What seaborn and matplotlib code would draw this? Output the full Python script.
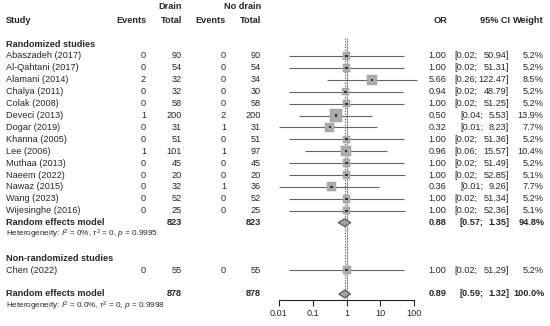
import numpy as np
import matplotlib
matplotlib.use("Agg")
import matplotlib.pyplot as plt
import seaborn as sns

# study level data (randomized studies)
studies = ["Abaszadeh (2017)", "Al-Qahtani (2017)", "Alamani (2014)", "Chalya (2011)",
           "Colak (2008)", "Deveci (2013)", "Dogar (2019)", "Khanna (2005)", "Lee (2006)",
           "Muthaa (2013)", "Naeem (2022)", "Nawaz (2015)", "Wang (2023)", "Wijesinghe (2016)"]
ev_drain = [0, 0, 2, 0, 0, 1, 0, 0, 1, 0, 0, 0, 0, 0]
n_drain = [90, 54, 32, 32, 58, 200, 31, 51, 101, 45, 20, 32, 52, 25]
ev_nodrain = [0, 0, 0, 0, 0, 2, 1, 0, 1, 0, 0, 1, 0, 0]
n_nodrain = [90, 54, 34, 30, 58, 200, 31, 51, 97, 45, 20, 36, 52, 25]
odds = [1.00, 1.00, 5.66, 0.94, 1.00, 0.50, 0.32, 1.00, 0.96, 1.00, 1.00, 0.36, 1.00, 1.00]
ci_lo = [0.02, 0.02, 0.26, 0.02, 0.02, 0.04, 0.01, 0.02, 0.06, 0.02, 0.02, 0.01, 0.02, 0.02]
ci_hi = [50.94, 51.31, 122.47, 48.79, 51.25, 5.53, 8.23, 51.36, 15.57, 51.49, 52.85, 9.26, 51.34, 52.36]
weights = [5.2, 5.2, 8.5, 5.2, 5.2, 13.9, 7.7, 5.2, 10.4, 5.2, 5.1, 7.7, 5.2, 5.1]

# non-randomized study
nr_studies = ["Chen (2022)"]
nr_ev_drain = [0]
nr_n_drain = [55]
nr_ev_nodrain = [0]
nr_n_nodrain = [55]
nr_odds = [1.00]
nr_ci_lo = [0.02]
nr_ci_hi = [51.29]
nr_weights = [5.2]

# pooled estimates: randomized subgroup, overall
pooled_labels = ["Random effects model", "Random effects model"]
pooled_n = [823, 878]
pooled_or = [0.88, 0.89]
pooled_lo = [0.57, 0.59]
pooled_hi = [1.35, 1.32]
pooled_w = [94.8, 100.0]
pooled_het = ["Heterogeneity: $I^2$ = 0%, $\\tau^2$ = 0, $p$ = 0.9995",
              "Heterogeneity: $I^2$ = 0.0%, $\\tau^2$ = 0, $p$ = 0.9998"]
tick_vals = [0.01, 0.1, 1, 10, 100]
tick_labels = ["0.01", "0.1", "1", "10", "100"]

sns.set_theme(style="white")
plt.rcParams["font.family"] = ["Liberation Sans", "DejaVu Sans"]
plt.rcParams["mathtext.fontset"] = "custom"
plt.rcParams["mathtext.rm"] = "Liberation Sans"
plt.rcParams["mathtext.it"] = "Liberation Sans:italic"

W, H = 550, 326
FS = 6.6
LINE_C = "#666666"
BOX_C = "#ababab"
K = 5.5  # marker area per % weight


def row_y(r):
    return 56 + 11.9 * r


fig = plt.figure(figsize=(W / 100, H / 100), dpi=100)
tx = fig.add_axes([0, 0, 1, 1])
tx.set_xlim(0, W)
tx.set_ylim(H, 0)
tx.axis("off")

fx = fig.add_axes([279 / W, 0, 135 / W, 1])
fx.set_xscale("log")
fx.set_xlim(0.01, 100)
fx.set_ylim(H, 0)
fx.patch.set_visible(False)
for side in ["left", "top", "right"]:
    fx.spines[side].set_visible(False)
fx.spines["bottom"].set_position(("data", 300))
fx.spines["bottom"].set_color("#222222")
fx.spines["bottom"].set_linewidth(0.8)
fx.set_yticks([])
fx.set_xticks(tick_vals)
fx.set_xticklabels(tick_labels)
fx.xaxis.set_minor_locator(matplotlib.ticker.NullLocator())
fx.tick_params(axis="x", bottom=True, length=4.5, width=0.8, color="#222222",
               labelsize=FS, pad=2)

# header
tx.text(182, row_y(-4.15), "Drain", ha="right", va="center", fontsize=FS, fontweight="bold")
tx.text(261, row_y(-4.15), "No drain", ha="right", va="center", fontsize=FS, fontweight="bold")
hy = row_y(-3)
for x, lab, ha in [(6, "Study", "left"), (146.5, "Events", "right"), (182, "Total", "right"),
                   (226, "Events", "right"), (261, "Total", "right"), (447, "OR", "right"),
                   (509.5, "95% CI", "right"), (544, "Weight", "right")]:
    tx.text(x, hy, lab, ha=ha, va="center", fontsize=FS, fontweight="bold")


def ci_text(y, lo, hi, bold=False):
    fw = "bold" if bold else "normal"
    lo_x = 483.5 if hi < 10 else 477.5
    tx.text(lo_x, y, f"[{lo:.2f};", ha="right", va="center", fontsize=FS, fontweight=fw)
    tx.text(509, y, f"{hi:.2f}]", ha="right", va="center", fontsize=FS, fontweight=fw)


def study_rows(names, ed, nd, en, nn, ors, los, his, ws, start):
    ys = [row_y(start + i) for i in range(len(names))]
    for i, y in enumerate(ys):
        tx.text(6, y, names[i], ha="left", va="center", fontsize=FS)
        tx.text(146, y, str(ed[i]), ha="right", va="center", fontsize=FS)
        tx.text(182, y, str(nd[i]), ha="right", va="center", fontsize=FS)
        tx.text(226, y, str(en[i]), ha="right", va="center", fontsize=FS)
        tx.text(261, y, str(nn[i]), ha="right", va="center", fontsize=FS)
        tx.text(446.5, y, f"{ors[i]:.2f}", ha="right", va="center", fontsize=FS)
        ci_text(y, los[i], his[i])
        tx.text(543.5, y, f"{ws[i]:.1f}%", ha="right", va="center", fontsize=FS)
    fx.hlines(ys, los, his, color=LINE_C, lw=0.8, clip_on=False, zorder=2)
    sns.scatterplot(x=ors, y=ys, size=ws, sizes=(5.1 * K, 13.9 * K), size_norm=(5.1, 13.9),
                    marker="s", color=BOX_C, edgecolor="#999999", linewidth=0.3,
                    legend=False, ax=fx, zorder=3)
    sns.scatterplot(x=ors, y=ys, marker="s", s=2.5, color="#333333", edgecolor="none",
                    legend=False, ax=fx, zorder=4)


def pooled_row(k, r):
    y = row_y(r)
    tx.text(6, y, pooled_labels[k], ha="left", va="center", fontsize=FS, fontweight="bold")
    tx.text(182, y, str(pooled_n[k]), ha="right", va="center", fontsize=FS, fontweight="bold")
    tx.text(261, y, str(pooled_n[k]), ha="right", va="center", fontsize=FS, fontweight="bold")
    tx.text(446.5, y, f"{pooled_or[k]:.2f}", ha="right", va="center", fontsize=FS, fontweight="bold")
    ci_text(y, pooled_lo[k], pooled_hi[k], bold=True)
    tx.text(544.5, y, f"{pooled_w[k]:.1f}%", ha="right", va="center", fontsize=FS, fontweight="bold")
    tx.text(6, row_y(r + 1), pooled_het[k], ha="left", va="center", fontsize=5.9)
    fx.fill([pooled_lo[k], pooled_or[k], pooled_hi[k], pooled_or[k]],
            [y, y - 4, y, y + 4], facecolor="#a0a0a0", edgecolor="#444444", lw=0.7, zorder=5)


# reference lines
fx.vlines(1, 38, 300, color="#999999", lw=0.8, zorder=1)
fx.vlines(pooled_or[1], 38, 300, color="#444444", lw=0.8, linestyles=(0, (1, 1.5)), zorder=1)

tx.text(6, row_y(-1), "Randomized studies", ha="left", va="center", fontsize=FS, fontweight="bold")
study_rows(studies, ev_drain, n_drain, ev_nodrain, n_nodrain, odds, ci_lo, ci_hi, weights, 0)
pooled_row(0, 14)

tx.text(6, row_y(17), "Non-randomized studies", ha="left", va="center", fontsize=FS, fontweight="bold")
study_rows(nr_studies, nr_ev_drain, nr_n_drain, nr_ev_nodrain, nr_n_nodrain,
           nr_odds, nr_ci_lo, nr_ci_hi, nr_weights, 18)
pooled_row(1, 20)

fig.savefig("out.png", dpi=100)
